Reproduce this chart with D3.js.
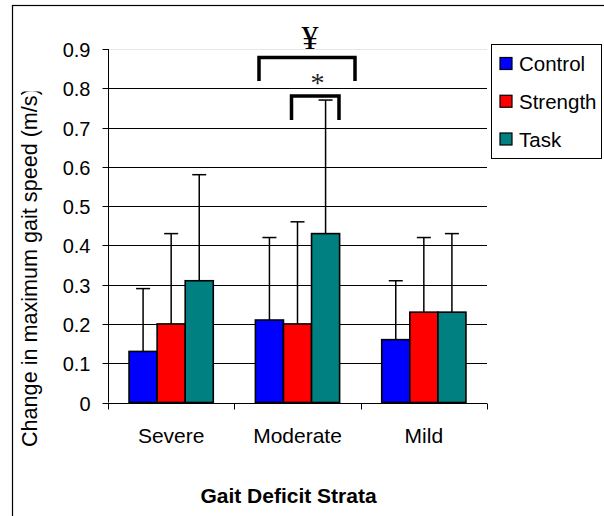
<!DOCTYPE html>
<html>
<head>
<meta charset="utf-8">
<script src="https://cdn.jsdelivr.net/npm/d3@7"></script>
<style>
  html, body { margin: 0; padding: 0; background: #fff; }
  svg { display: block; }
</style>
</head>
<body>
<script>
const categories = ["Severe", "Moderate", "Mild"];
const seriesNames = ["Control", "Strength", "Task"];
const seriesColors = ["#0000FF", "#FF0000", "#008080"];
const controlValues = [0.13, 0.21, 0.16];
const strengthValues = [0.20, 0.20, 0.23];
const taskValues = [0.31, 0.43, 0.23];
const controlUpper = [0.29, 0.42, 0.31];
const strengthUpper = [0.43, 0.46, 0.42];
const taskUpper = [0.58, 0.77, 0.43];
const yTicks = [0, 0.1, 0.2, 0.3, 0.4, 0.5, 0.6, 0.7, 0.8, 0.9];
const yTickLabels = ["0", "0.1", "0.2", "0.3", "0.4", "0.5", "0.6", "0.7", "0.8", "0.9"];

const values = [controlValues, strengthValues, taskValues];
const uppers = [controlUpper, strengthUpper, taskUpper];

const W = 604, H = 516;
const FONT = "'Liberation Sans', Arial, Helvetica, sans-serif";
const SERIF = "'Liberation Serif', 'Times New Roman', serif";

const svg = d3.select("body").append("svg").attr("width", W).attr("height", H);

// outer chart border (clipped by viewport on right/bottom)
svg.append("rect").attr("x", 12.5).attr("y", 5.5).attr("width", 640).attr("height", 560)
  .attr("fill", "none").attr("stroke", "#000").attr("stroke-width", 1.2);

const x0 = d3.scaleBand().domain(categories).range([108, 487]).paddingInner(0).paddingOuter(0);
const y = d3.scaleLinear().domain([0, 0.9]).range([402.5, 49]);
const bw = x0.bandwidth() / 4.5;
const x1 = d3.scaleBand().domain(seriesNames).range([0.75 * bw, 3.75 * bw]).padding(0);

// gridlines
svg.append("g").selectAll("line").data(yTicks.filter(d => d > 0)).join("line")
  .attr("x1", 108).attr("x2", 487)
  .attr("y1", d => Math.round(y(d)) + 0.5).attr("y2", d => Math.round(y(d)) + 0.5)
  .attr("stroke", d => d >= 0.9 ? "#e6e6e6" : "#000").attr("stroke-width", 1);

// y axis
const yAxis = d3.axisLeft(y).tickValues(yTicks).tickSize(6).tickPadding(12)
  .tickFormat((d, i) => yTickLabels[i]);
const gy = svg.append("g").attr("transform", "translate(108.5,0)").call(yAxis);
gy.select(".domain").attr("stroke", "#000").attr("stroke-width", 1).attr("d", `M0,${y(0.9)}V${y(0)}`);
gy.selectAll(".tick line").attr("stroke", "#000");
gy.selectAll(".tick text").attr("font-family", FONT).attr("font-size", 20).attr("fill", "#000")
  .attr("dy", "0.36em").attr("x", -18);
gy.selectAll(".tick").attr("transform", d => `translate(0,${Math.round(y(d)) + 0.5})`);

// x axis
const gx = svg.append("g").attr("transform", `translate(0,${Math.round(y(0)) + 0.5})`);
gx.append("line").attr("x1", 108).attr("x2", 487).attr("stroke", "#000");
const catEdges = categories.map(c => x0(c)).concat([x0.range()[1]]);
gx.selectAll("line.tk").data(catEdges).join("line").attr("class", "tk")
  .attr("x1", d => Math.round(d) + 0.5).attr("x2", d => Math.round(d) + 0.5)
  .attr("y1", 0).attr("y2", 6).attr("stroke", "#000");
gx.selectAll("text").data(categories).join("text")
  .attr("x", d => x0(d) + x0.bandwidth() / 2).attr("y", 39)
  .attr("text-anchor", "middle").attr("font-family", FONT).attr("font-size", 21).attr("fill", "#000")
  .text(d => d);

// bars
const barData = [];
categories.forEach((c, ci) => {
  seriesNames.forEach((s, si) => {
    barData.push({ c, s, si, v: values[si][ci], u: uppers[si][ci] });
  });
});

// error bars
const eg = svg.append("g");
eg.selectAll("line.v").data(barData).join("line").attr("class", "v")
  .attr("x1", d => x0(d.c) + x1(d.s) + bw / 2).attr("x2", d => x0(d.c) + x1(d.s) + bw / 2)
  .attr("y1", d => y(d.v)).attr("y2", d => y(d.u))
  .attr("stroke", "#000").attr("stroke-width", 1.5);
eg.selectAll("line.c").data(barData).join("line").attr("class", "c")
  .attr("x1", d => x0(d.c) + x1(d.s) + bw / 2 - 7).attr("x2", d => x0(d.c) + x1(d.s) + bw / 2 + 7)
  .attr("y1", d => y(d.u)).attr("y2", d => y(d.u))
  .attr("stroke", "#000").attr("stroke-width", 1.5);

svg.append("g").selectAll("rect").data(barData).join("rect")
  .attr("x", d => x0(d.c) + x1(d.s)).attr("width", bw)
  .attr("y", d => y(d.v)).attr("height", d => y(0) - y(d.v))
  .attr("fill", d => seriesColors[d.si]).attr("stroke", "#000").attr("stroke-width", 1.6);

// significance brackets
const br = svg.append("g").attr("fill", "none").attr("stroke", "#000").attr("stroke-width", 3.5);
br.append("path").attr("d", "M259,81V57.5H355V81");
br.append("path").attr("d", "M291.5,120V96H339V120");
svg.append("text").attr("x", 310).attr("y", 48.5).attr("text-anchor", "middle")
  .attr("font-family", SERIF).attr("font-size", 34).attr("fill", "#000").text("¥");
svg.append("text").attr("x", 317.5).attr("y", 92).attr("text-anchor", "middle")
  .attr("font-family", SERIF).attr("font-size", 28).attr("fill", "#222").text("*");

// y axis title (top clipped)
svg.append("clipPath").attr("id", "ytclip").append("rect")
  .attr("x", 0).attr("y", 91.5).attr("width", 70).attr("height", 430);
svg.append("g").attr("clip-path", "url(#ytclip)").append("text")
  .attr("transform", "translate(37,447) rotate(-90)")
  .attr("font-family", FONT).attr("font-size", 21.6).attr("fill", "#000")
  .text("Change in maximum gait speed (m/s)");

// x axis title
svg.append("text").attr("x", 288.5).attr("y", 503).attr("text-anchor", "middle")
  .attr("font-family", FONT).attr("font-size", 21).attr("font-weight", "bold").attr("fill", "#000")
  .text("Gait Deficit Strata");

// legend
const lg = svg.append("g");
lg.append("rect").attr("x", 491.5).attr("y", 44.5).attr("width", 110).attr("height", 114)
  .attr("fill", "#fff").attr("stroke", "#000").attr("stroke-width", 1);
const ly = d3.scalePoint().domain(seriesNames).range([63.5, 139]);
lg.selectAll("rect.sw").data(seriesNames).join("rect").attr("class", "sw")
  .attr("x", 500).attr("y", d => ly(d) - 6).attr("width", 12).attr("height", 12)
  .attr("fill", (d, i) => seriesColors[i]).attr("stroke", "#000").attr("stroke-width", 1.2);
lg.selectAll("text").data(seriesNames).join("text")
  .attr("x", 519).attr("y", d => ly(d) + 7.5)
  .attr("font-family", FONT).attr("font-size", 20.5).attr("fill", "#000").text(d => d);
</script>
</body>
</html>
